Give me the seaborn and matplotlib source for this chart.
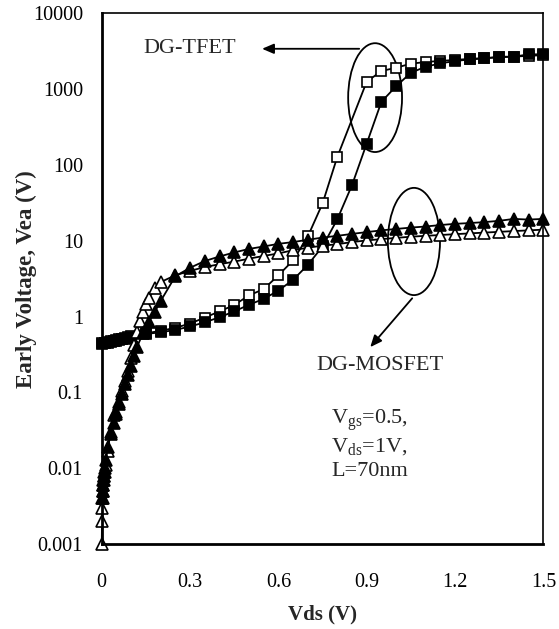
import numpy as np
import pandas as pd
import matplotlib
matplotlib.use("Agg")
import matplotlib.pyplot as plt
import seaborn as sns
from matplotlib.patches import Ellipse
from matplotlib.ticker import FixedLocator, FixedFormatter, LogLocator, NullFormatter, MultipleLocator

# ---------------- data ----------------
tfet_open_x = [0, 0.01, 0.02, 0.03, 0.04, 0.05, 0.06, 0.07, 0.08, 0.09, 0.10, 0.15, 0.20, 0.25,
               0.30, 0.35, 0.40, 0.45, 0.50, 0.55, 0.60, 0.65, 0.70, 0.75, 0.80, 0.90, 0.95,
               1.00, 1.05, 1.10, 1.15, 1.20, 1.25, 1.30, 1.35, 1.40, 1.45, 1.50]
tfet_open_y = [0.45, 0.455, 0.46, 0.47, 0.48, 0.49, 0.50, 0.51, 0.52, 0.53, 0.55, 0.60, 0.65, 0.71,
               0.81, 0.97, 1.17, 1.42, 1.9, 2.3, 3.5, 5.5, 11.4, 31, 127, 1250, 1730,
               1910, 2160, 2270, 2350, 2420, 2500, 2560, 2620, 2680, 2740, 2800]

tfet_fill_x = [0, 0.01, 0.02, 0.03, 0.04, 0.05, 0.06, 0.07, 0.08, 0.09, 0.10, 0.15, 0.20, 0.25,
               0.30, 0.35, 0.40, 0.45, 0.50, 0.55, 0.60, 0.65, 0.70, 0.75, 0.80, 0.85, 0.90,
               0.95, 1.00, 1.05, 1.10, 1.15, 1.20, 1.25, 1.30, 1.35, 1.40, 1.45, 1.50]
tfet_fill_y = [0.44, 0.445, 0.45, 0.46, 0.47, 0.48, 0.49, 0.50, 0.51, 0.52, 0.54, 0.59, 0.62, 0.667,
               0.74, 0.84, 0.98, 1.17, 1.43, 1.71, 2.2, 3.05, 4.8, 8.4, 19.1, 54, 191,
               680, 1090, 1640, 1970, 2180, 2340, 2460, 2530, 2670, 2670, 2870, 2870]

mos_open_x = [0, 0.001, 0.002, 0.003, 0.004, 0.005, 0.006, 0.008, 0.01, 0.015, 0.02, 0.03, 0.04,
              0.05, 0.06, 0.07, 0.08, 0.09, 0.10, 0.11, 0.12, 0.13, 0.14, 0.15, 0.16, 0.18, 0.20,
              0.25, 0.30, 0.35, 0.40, 0.45, 0.50, 0.55, 0.60, 0.65, 0.70, 0.75, 0.80, 0.85,
              0.90, 0.95, 1.00, 1.05, 1.10, 1.15, 1.20, 1.25, 1.30, 1.35, 1.40, 1.45, 1.50]
mos_open_y = [0.001, 0.002, 0.003, 0.004, 0.005, 0.006, 0.007, 0.008, 0.009, 0.011, 0.017, 0.03, 0.05,
              0.055, 0.075, 0.105, 0.14, 0.19, 0.28, 0.42, 0.62, 0.88, 1.15, 1.45, 1.75, 2.35, 2.85,
              3.5, 4.0, 4.5, 4.9, 5.3, 5.8, 6.3, 6.8, 7.5, 8.1, 8.6, 9.0, 9.6,
              10.1, 10.5, 10.9, 11.3, 11.6, 11.9, 12.2, 12.5, 12.8, 13.1, 13.4, 13.7, 14.0]

mos_fill_x = [0.002, 0.003, 0.004, 0.005, 0.006, 0.008, 0.01, 0.015, 0.02, 0.03, 0.04, 0.05, 0.06,
              0.07, 0.08, 0.09, 0.10, 0.11, 0.12, 0.14, 0.16, 0.18, 0.20, 0.25, 0.30, 0.35,
              0.40, 0.45, 0.50, 0.55, 0.60, 0.65, 0.70, 0.75, 0.80, 0.85, 0.90, 0.95, 1.00,
              1.05, 1.10, 1.15, 1.20, 1.25, 1.30, 1.35, 1.40, 1.45, 1.50]
mos_fill_y = [0.004, 0.005, 0.006, 0.007, 0.008, 0.009, 0.010, 0.013, 0.019, 0.028, 0.039, 0.052, 0.07,
              0.095, 0.13, 0.17, 0.22, 0.30, 0.40, 0.60, 0.85, 1.15, 1.6, 3.4, 4.4, 5.4,
              6.2, 7.0, 7.8, 8.4, 9.1, 9.6, 10.3, 11.0, 11.6, 12.3, 13.0, 13.7, 14.3,
              14.9, 15.4, 16.1, 16.7, 17.1, 17.6, 18.3, 19.4, 19.0, 19.4]

xtick_values = [0, 0.3, 0.6, 0.9, 1.2, 1.5]
xtick_labels = ["0", "0.3", "0.6", "0.9", "1.2", "1.5"]
ytick_values = [0.001, 0.01, 0.1, 1, 10, 100, 1000, 10000]
ytick_labels = ["0.001", "0.01", "0.1", "1", "10", "100", "1000", "10000"]

# ---------------- style ----------------
sns.set_style("white")
plt.rcParams["font.family"] = ["Liberation Serif", "DejaVu Serif"]
plt.rcParams["mathtext.fontset"] = "custom"
plt.rcParams["mathtext.rm"] = "Liberation Serif"
plt.rcParams["mathtext.it"] = "Liberation Serif:italic"

fig = plt.figure(figsize=(5.59, 6.29), dpi=100)
ax = fig.add_axes([0.182, 0.135, 0.790, 0.844])

def draw(xs, ys, marker, fill, ms):
    df = pd.DataFrame({"x": xs, "y": ys})
    sns.lineplot(data=df, x="x", y="y", ax=ax, color="black", linewidth=1.3,
                 marker=marker, markersize=ms, markerfacecolor=fill,
                 markeredgecolor="black", markeredgewidth=1.2,
                 errorbar=None, sort=False, clip_on=False)

draw(tfet_open_x, tfet_open_y, "s", "white", 7.3)
draw(tfet_fill_x, tfet_fill_y, "s", "black", 7.3)
draw(mos_open_x, mos_open_y, "^", "white", 8.5)
draw(mos_fill_x, mos_fill_y, "^", "black", 8.5)

ax.set_yscale("log")
ax.set_xlim(0, 1.5)
ax.set_ylim(0.001, 10000)

ax.xaxis.set_major_locator(FixedLocator(xtick_values))
ax.xaxis.set_major_formatter(FixedFormatter(xtick_labels))
ax.xaxis.set_minor_locator(MultipleLocator(0.06))
ax.yaxis.set_major_locator(FixedLocator(ytick_values))
ax.yaxis.set_major_formatter(FixedFormatter(ytick_labels))
ax.yaxis.set_minor_locator(LogLocator(base=10, subs=np.arange(2, 10)))
ax.yaxis.set_minor_formatter(NullFormatter())

ax.tick_params(axis="both", which="major", direction="inout", length=9, width=1.4,
               labelsize=14.5, color="black", labelcolor="black")
ax.tick_params(axis="x", which="major", pad=16)
ax.tick_params(axis="y", which="major", pad=9)
ax.tick_params(axis="both", which="minor", direction="in", length=4, width=1.1, color="black")
ax.tick_params(top=False, right=False, which="both")

for s in ["left", "bottom"]:
    ax.spines[s].set_linewidth(2.0)
for s in ["top", "right"]:
    ax.spines[s].set_linewidth(1.2)
for s in ax.spines.values():
    s.set_color("black")

ax.set_xlabel("Vds (V)", fontsize=15, fontweight="bold")
ax.set_ylabel("Early Voltage, Vea (V)", fontsize=16.5, fontweight="bold")
ax.xaxis.set_label_coords(0.5, -0.113)
ax.yaxis.set_label_coords(-0.146, 0.50)

# ---------------- annotations ----------------
ax.add_patch(Ellipse((0.619, 0.841), 0.122, 0.205, transform=ax.transAxes,
                     fill=False, edgecolor="black", linewidth=1.3))
ax.add_patch(Ellipse((0.707, 0.570), 0.118, 0.202, transform=ax.transAxes,
                     fill=False, edgecolor="black", linewidth=1.3))

ax.annotate("", xy=(0.363, 0.933), xytext=(0.583, 0.933), xycoords="axes fraction",
            arrowprops=dict(arrowstyle="-|>,head_length=0.7,head_width=0.3",
                            color="black", lw=1.3, shrinkA=0, shrinkB=0))
ax.annotate("", xy=(0.608, 0.371), xytext=(0.703, 0.463), xycoords="axes fraction",
            arrowprops=dict(arrowstyle="-|>,head_length=0.7,head_width=0.3",
                            color="black", lw=1.3, shrinkA=0, shrinkB=0))

ax.text(0.200, 0.934, "DG-TFET", transform=ax.transAxes, fontsize=16,
        ha="center", va="center")
ax.text(0.631, 0.337, "DG-MOSFET", transform=ax.transAxes, fontsize=16,
        ha="center", va="center")
ax.text(0.519, 0.234, r"V$_{\mathregular{gs}}$=0.5,", transform=ax.transAxes, fontsize=16,
        ha="left", va="center")
ax.text(0.519, 0.183, r"V$_{\mathregular{ds}}$=1V,", transform=ax.transAxes, fontsize=16,
        ha="left", va="center")
ax.text(0.519, 0.136, "L=70nm", transform=ax.transAxes, fontsize=16,
        ha="left", va="center")

fig.savefig("out.png", dpi=100, facecolor="white")
